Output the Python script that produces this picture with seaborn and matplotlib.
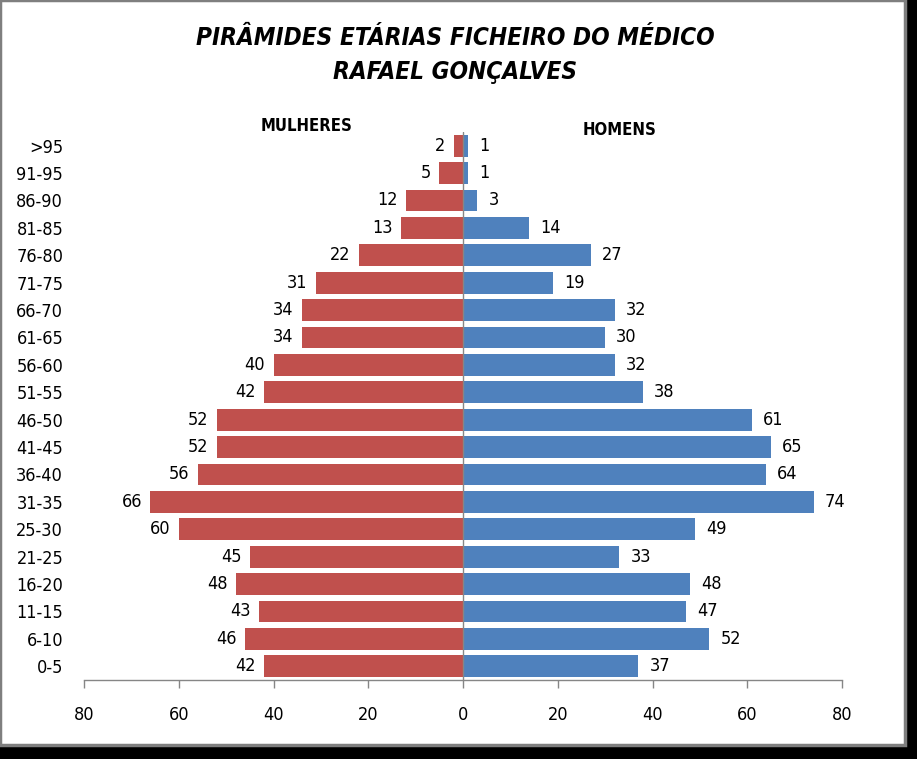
import matplotlib
matplotlib.use("Agg")
import matplotlib.pyplot as plt
import seaborn as sns
import pandas as pd
from matplotlib.patches import Rectangle

categories = [">95", "91-95", "86-90", "81-85", "76-80", "71-75", "66-70", "61-65",
              "56-60", "51-55", "46-50", "41-45", "36-40", "31-35", "25-30", "21-25",
              "16-20", "11-15", "6-10", "0-5"]
mulheres = [2, 5, 12, 13, 22, 31, 34, 34, 40, 42, 52, 52, 56, 66, 60, 45, 48, 43, 46, 42]
homens = [1, 1, 3, 14, 27, 19, 32, 30, 32, 38, 61, 65, 64, 74, 49, 33, 48, 47, 52, 37]
xticks = [-80, -60, -40, -20, 0, 20, 40, 60, 80]

sns.set_style("white")
plt.rcParams['font.family'] = ['DejaVu Sans']
plt.rcParams['font.stretch'] = 'condensed'
plt.rcParams['text.color'] = 'black'
plt.rcParams['xtick.color'] = '#868686'
plt.rcParams['xtick.labelcolor'] = 'black'
plt.rcParams['ytick.labelcolor'] = 'black'

RED = "#C0504D"
BLUE = "#4F81BD"

df = pd.DataFrame({"faixa": categories,
                   "mulheres": [-v for v in mulheres],
                   "homens": homens})

fig = plt.figure(figsize=(9.17, 7.59), dpi=100)
fig.patch.set_facecolor("black")
# white chart area with grey border (black shadow right/bottom)
fig.patches.append(Rectangle((0.0, 14 / 759), 905 / 917, 745 / 759, transform=fig.transFigure,
                             facecolor="white", edgecolor="#7f7f7f", linewidth=2.5, zorder=-5))

ax = fig.add_axes([84 / 917, (759 - 680) / 759, (842 - 84) / 917, (680 - 132) / 759])
ax.set_zorder(2)
ax.set_facecolor("none")

sns.barplot(data=df, x="mulheres", y="faixa", order=categories, color=RED,
            orient="h", width=0.80, ax=ax, saturation=1, linewidth=0)
sns.barplot(data=df, x="homens", y="faixa", order=categories, color=BLUE,
            orient="h", width=0.80, ax=ax, saturation=1, linewidth=0)

ax.set_xlim(-80, 80)
ax.set_ylim(len(categories) - 0.5, -0.5)
ax.set_xticks(xticks)
ax.set_xticklabels([str(abs(t)) for t in xticks])
ax.set_xlabel("")
ax.set_ylabel("")

for s in ["top", "right", "left"]:
    ax.spines[s].set_visible(False)
ax.spines["bottom"].set_color("#868686")
ax.spines["bottom"].set_linewidth(1)
ax.axvline(0, color="#868686", linewidth=1, zorder=3)

ax.tick_params(axis="x", bottom=True, direction="out", length=6, width=1, color="#868686",
               pad=13, labelsize=13)
ax.tick_params(axis="y", left=False, length=0, pad=15, labelsize=13)

for i, (m, h) in enumerate(zip(mulheres, homens)):
    ax.annotate(str(m), xy=(-m, i), xytext=(-6, 0), textcoords="offset points",
                ha="right", va="center", fontsize=13)
    ax.annotate(str(h), xy=(h, i), xytext=(8, 0), textcoords="offset points",
                ha="left", va="center", fontsize=13)

fig.text(307 / 917, 1 - 126 / 759, "MULHERES", ha="center", va="center",
         fontsize=12, fontweight="bold")
fig.text(620 / 917, 1 - 130 / 759, "HOMENS", ha="center", va="center",
         fontsize=12, fontweight="bold")

fig.text(455 / 917, 1 - 38 / 759, "PIRÂMIDES ETÁRIAS FICHEIRO DO MÉDICO",
         ha="center", va="center", fontsize=17.5, fontweight="bold", fontstyle="italic")
fig.text(455 / 917, 1 - 72 / 759, "RAFAEL GONÇALVES",
         ha="center", va="center", fontsize=17.5, fontweight="bold", fontstyle="italic")

fig.savefig("out.png", dpi=100, facecolor=fig.get_facecolor())
